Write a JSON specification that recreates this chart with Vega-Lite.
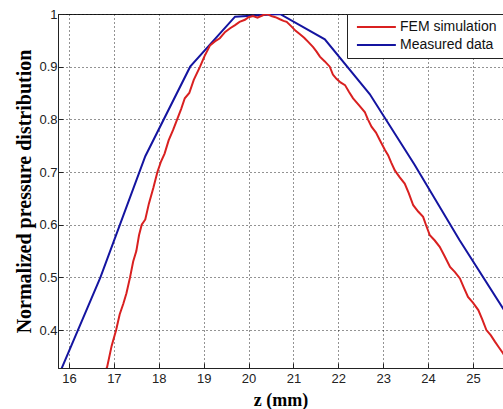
{
  "$schema": "https://vega.github.io/schema/vega-lite/v6.json",
  "width": 445,
  "height": 354,
  "autosize": {"type": "none"},
  "padding": {"left": 58, "top": 14, "right": 0, "bottom": 41},
  "background": "white",
  "config": {
    "view": {"stroke": "#222", "strokeWidth": 1},
    "axis": {
      "labelFont": "Liberation Sans",
      "labelFontSize": 13,
      "labelColor": "#222",
      "titleFont": "Liberation Serif",
      "titleFontWeight": "bold",
      "titleColor": "#000",
      "domainColor": "#222",
      "tickColor": "#222",
      "gridColor": "#000",
      "gridDash": [1, 3],
      "gridOpacity": 0.85,
      "gridWidth": 1
    }
  },
  "data": {
    "values": [
      {"z": 15.7, "p": 0.30, "series": "Measured data"},
      {"z": 16.7, "p": 0.50, "series": "Measured data"},
      {"z": 17.7, "p": 0.73, "series": "Measured data"},
      {"z": 18.7, "p": 0.90, "series": "Measured data"},
      {"z": 19.7, "p": 0.995, "series": "Measured data"},
      {"z": 20.7, "p": 1.0, "series": "Measured data"},
      {"z": 21.7, "p": 0.952, "series": "Measured data"},
      {"z": 22.7, "p": 0.848, "series": "Measured data"},
      {"z": 23.7, "p": 0.714, "series": "Measured data"},
      {"z": 24.7, "p": 0.571, "series": "Measured data"},
      {"z": 25.7, "p": 0.437, "series": "Measured data"},
      {"z": 16.75, "p": 0.31, "series": "FEM simulation"},
      {"z": 16.85, "p": 0.33, "series": "FEM simulation"},
      {"z": 16.95, "p": 0.37, "series": "FEM simulation"},
      {"z": 17.05, "p": 0.40, "series": "FEM simulation"},
      {"z": 17.13, "p": 0.43, "series": "FEM simulation"},
      {"z": 17.21, "p": 0.45, "series": "FEM simulation"},
      {"z": 17.28, "p": 0.47, "series": "FEM simulation"},
      {"z": 17.36, "p": 0.50, "series": "FEM simulation"},
      {"z": 17.43, "p": 0.53, "series": "FEM simulation"},
      {"z": 17.50, "p": 0.55, "series": "FEM simulation"},
      {"z": 17.56, "p": 0.58, "series": "FEM simulation"},
      {"z": 17.62, "p": 0.60, "series": "FEM simulation"},
      {"z": 17.70, "p": 0.61, "series": "FEM simulation"},
      {"z": 17.78, "p": 0.64, "series": "FEM simulation"},
      {"z": 17.88, "p": 0.67, "series": "FEM simulation"},
      {"z": 17.97, "p": 0.70, "series": "FEM simulation"},
      {"z": 18.05, "p": 0.72, "series": "FEM simulation"},
      {"z": 18.13, "p": 0.735, "series": "FEM simulation"},
      {"z": 18.22, "p": 0.76, "series": "FEM simulation"},
      {"z": 18.32, "p": 0.78, "series": "FEM simulation"},
      {"z": 18.41, "p": 0.80, "series": "FEM simulation"},
      {"z": 18.50, "p": 0.82, "series": "FEM simulation"},
      {"z": 18.58, "p": 0.84, "series": "FEM simulation"},
      {"z": 18.68, "p": 0.85, "series": "FEM simulation"},
      {"z": 18.78, "p": 0.875, "series": "FEM simulation"},
      {"z": 18.92, "p": 0.90, "series": "FEM simulation"},
      {"z": 19.02, "p": 0.92, "series": "FEM simulation"},
      {"z": 19.14, "p": 0.94, "series": "FEM simulation"},
      {"z": 19.25, "p": 0.948, "series": "FEM simulation"},
      {"z": 19.36, "p": 0.954, "series": "FEM simulation"},
      {"z": 19.48, "p": 0.966, "series": "FEM simulation"},
      {"z": 19.59, "p": 0.973, "series": "FEM simulation"},
      {"z": 19.70, "p": 0.979, "series": "FEM simulation"},
      {"z": 19.80, "p": 0.985, "series": "FEM simulation"},
      {"z": 19.92, "p": 0.989, "series": "FEM simulation"},
      {"z": 20.00, "p": 0.994, "series": "FEM simulation"},
      {"z": 20.10, "p": 0.996, "series": "FEM simulation"},
      {"z": 20.20, "p": 0.993, "series": "FEM simulation"},
      {"z": 20.33, "p": 0.998, "series": "FEM simulation"},
      {"z": 20.42, "p": 1.0, "series": "FEM simulation"},
      {"z": 20.51, "p": 0.996, "series": "FEM simulation"},
      {"z": 20.60, "p": 0.994, "series": "FEM simulation"},
      {"z": 20.70, "p": 0.99, "series": "FEM simulation"},
      {"z": 20.78, "p": 0.987, "series": "FEM simulation"},
      {"z": 20.85, "p": 0.985, "series": "FEM simulation"},
      {"z": 20.96, "p": 0.976, "series": "FEM simulation"},
      {"z": 21.05, "p": 0.968, "series": "FEM simulation"},
      {"z": 21.14, "p": 0.962, "series": "FEM simulation"},
      {"z": 21.24, "p": 0.955, "series": "FEM simulation"},
      {"z": 21.33, "p": 0.947, "series": "FEM simulation"},
      {"z": 21.44, "p": 0.937, "series": "FEM simulation"},
      {"z": 21.52, "p": 0.928, "series": "FEM simulation"},
      {"z": 21.59, "p": 0.919, "series": "FEM simulation"},
      {"z": 21.70, "p": 0.91, "series": "FEM simulation"},
      {"z": 21.81, "p": 0.90, "series": "FEM simulation"},
      {"z": 21.88, "p": 0.885, "series": "FEM simulation"},
      {"z": 21.96, "p": 0.877, "series": "FEM simulation"},
      {"z": 22.05, "p": 0.87, "series": "FEM simulation"},
      {"z": 22.15, "p": 0.865, "series": "FEM simulation"},
      {"z": 22.24, "p": 0.852, "series": "FEM simulation"},
      {"z": 22.33, "p": 0.84, "series": "FEM simulation"},
      {"z": 22.45, "p": 0.828, "series": "FEM simulation"},
      {"z": 22.59, "p": 0.814, "series": "FEM simulation"},
      {"z": 22.66, "p": 0.80, "series": "FEM simulation"},
      {"z": 22.74, "p": 0.786, "series": "FEM simulation"},
      {"z": 22.84, "p": 0.775, "series": "FEM simulation"},
      {"z": 22.93, "p": 0.76, "series": "FEM simulation"},
      {"z": 23.04, "p": 0.742, "series": "FEM simulation"},
      {"z": 23.11, "p": 0.732, "series": "FEM simulation"},
      {"z": 23.18, "p": 0.718, "series": "FEM simulation"},
      {"z": 23.26, "p": 0.703, "series": "FEM simulation"},
      {"z": 23.37, "p": 0.69, "series": "FEM simulation"},
      {"z": 23.48, "p": 0.678, "series": "FEM simulation"},
      {"z": 23.57, "p": 0.66, "series": "FEM simulation"},
      {"z": 23.67, "p": 0.637, "series": "FEM simulation"},
      {"z": 23.78, "p": 0.625, "series": "FEM simulation"},
      {"z": 23.89, "p": 0.615, "series": "FEM simulation"},
      {"z": 23.96, "p": 0.598, "series": "FEM simulation"},
      {"z": 24.04, "p": 0.58, "series": "FEM simulation"},
      {"z": 24.15, "p": 0.57, "series": "FEM simulation"},
      {"z": 24.26, "p": 0.558, "series": "FEM simulation"},
      {"z": 24.37, "p": 0.54, "series": "FEM simulation"},
      {"z": 24.49, "p": 0.52, "series": "FEM simulation"},
      {"z": 24.60, "p": 0.51, "series": "FEM simulation"},
      {"z": 24.71, "p": 0.498, "series": "FEM simulation"},
      {"z": 24.80, "p": 0.48, "series": "FEM simulation"},
      {"z": 24.89, "p": 0.463, "series": "FEM simulation"},
      {"z": 25.00, "p": 0.452, "series": "FEM simulation"},
      {"z": 25.12, "p": 0.438, "series": "FEM simulation"},
      {"z": 25.21, "p": 0.42, "series": "FEM simulation"},
      {"z": 25.30, "p": 0.40, "series": "FEM simulation"},
      {"z": 25.40, "p": 0.39, "series": "FEM simulation"},
      {"z": 25.49, "p": 0.378, "series": "FEM simulation"},
      {"z": 25.58, "p": 0.367, "series": "FEM simulation"},
      {"z": 25.67, "p": 0.356, "series": "FEM simulation"},
      {"z": 25.75, "p": 0.345, "series": "FEM simulation"}
    ]
  },
  "mark": {"type": "line", "clip": true, "strokeWidth": 2},
  "encoding": {
    "x": {
      "field": "z",
      "type": "quantitative",
      "scale": {"domain": [15.755, 25.67], "nice": false, "zero": false},
      "axis": {
        "title": "z (mm)",
        "titleFontSize": 18,
        "titlePadding": 6,
        "values": [16, 17, 18, 19, 20, 21, 22, 23, 24, 25],
        "tickSize": -5,
        "labelPadding": 9,
        "format": "d"
      }
    },
    "y": {
      "field": "p",
      "type": "quantitative",
      "scale": {"domain": [0.328, 1.0], "nice": false, "zero": false},
      "axis": {
        "title": "Normalized pressure distribution",
        "titleFontSize": 20,
        "titlePadding": 4,
        "values": [0.4, 0.5, 0.6, 0.7, 0.8, 0.9, 1.0],
        "tickSize": -5,
        "labelPadding": 6,
        "format": ".1~f"
      }
    },
    "color": {
      "field": "series",
      "type": "nominal",
      "scale": {"domain": ["FEM simulation", "Measured data"], "range": ["#d92020", "#1414a0"]},
      "legend": {
        "title": null,
        "orient": "top-right",
        "offset": 0,
        "symbolType": "M-0.6,0H7.0",
        "symbolSize": 105,
        "symbolStrokeWidth": 2,
        "labelFont": "Liberation Sans",
        "labelFontSize": 14,
        "labelColor": "#111",
        "labelOffset": 33,
        "strokeColor": "#222",
        "fillColor": "white",
        "padding": 6,
        "rowPadding": 4
      }
    }
  }
}
